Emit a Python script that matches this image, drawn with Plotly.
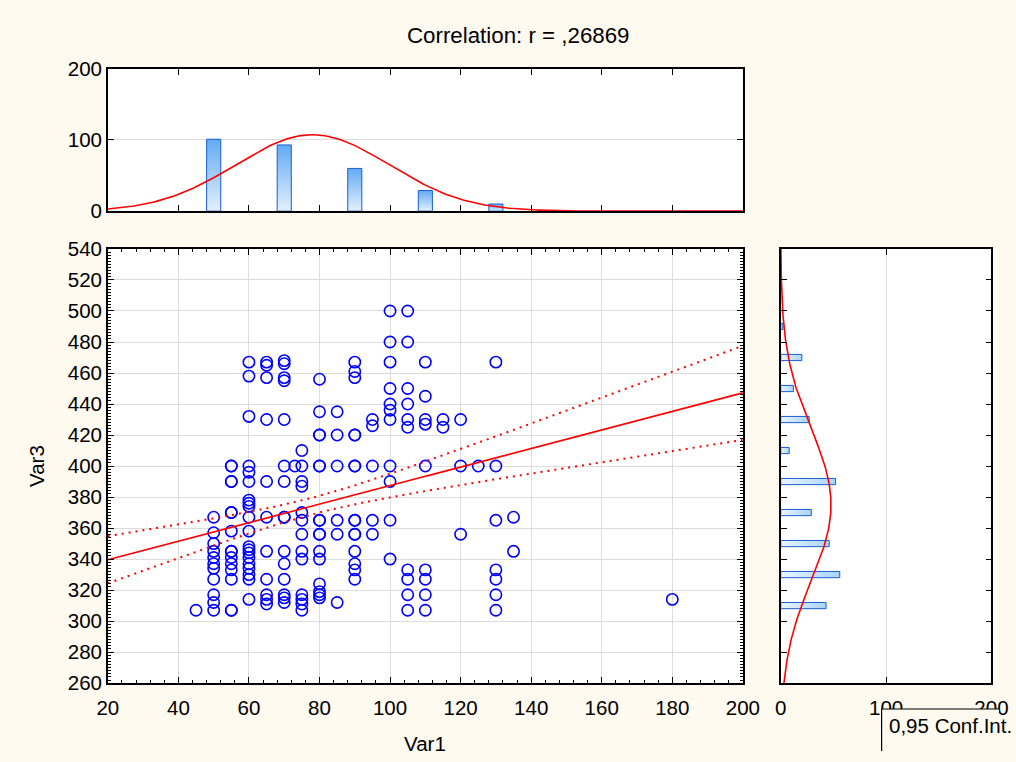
import numpy as np
import plotly.graph_objects as go

# ---------------- data ----------------
# scatter: Var1 (x) and Var3 (y), one entry per visible circle
var1 = ([45] + [50]*11 + [55]*15 + [60]*20 + [65]*11 + [70]*15 + [73] + [75]*13 +
        [80]*16 + [85]*6 + [90]*15 + [95]*5 + [100]*11 + [105]*10 + [110]*9 +
        [115]*2 + [120]*3 + [125] + [130]*7 + [135]*2 + [180])
var3 = ([307] +
        [367, 357, 350, 345, 341, 337, 334, 327, 317, 312, 307] +
        [400, 400, 390, 390, 370, 370, 358, 345, 345, 341, 337, 333, 327, 307, 307] +
        [467, 458, 432, 400, 396, 390, 378, 376, 374, 367, 358, 348, 346, 344, 341, 337, 334, 330, 327, 314] +
        [467, 465, 457, 430, 390, 367, 345, 327, 317, 314, 311] +
        [468, 466, 457, 455, 430, 400, 390, 367, 367, 345, 337, 327, 317, 315, 312] +
        [400] +
        [410, 400, 390, 387, 370, 365, 356, 345, 340, 317, 314, 311, 307] +
        [456, 435, 420, 420, 400, 400, 365, 365, 356, 356, 345, 340, 324, 319, 317, 315] +
        [435, 420, 400, 365, 356, 312] +
        [467, 461, 457, 420, 420, 400, 400, 365, 365, 356, 356, 345, 337, 333, 327] +
        [430, 426, 400, 365, 356] +
        [500, 480, 467, 450, 440, 436, 430, 400, 390, 365, 340] +
        [500, 480, 450, 440, 430, 425, 333, 327, 317, 307] +
        [467, 445, 430, 427, 400, 333, 327, 317, 307] +
        [430, 425] +
        [430, 400, 356] +
        [400] +
        [467, 400, 365, 333, 327, 317, 307] +
        [367, 345] +
        [314])

# histogram of Var1 (top)
hist1_centers = [50, 70, 90, 110, 130]
hist1_counts = [101, 93, 60, 29, 10]
# histogram of Var3 (right)
hist3_centers = [310, 330, 350, 370, 390, 410, 430, 450, 470, 490]
hist3_counts = [43, 56, 46, 29, 52, 8, 27, 12, 20, 2]

# fitted statistics
n_obs = 293
bin_width = 20
bar_width = 4
mean_var1, sd_var1 = 78.0, 21.8
mean_var3, sd_var3 = 375.0, 49.0
reg_intercept, reg_slope = 327.6, 0.598
resid_sd, t_crit = 46.4, 1.968
title_text = "Correlation: r = ,26869"

# ---------------- derived curves ----------------
xs = np.linspace(20, 200, 241)
ys = np.linspace(260, 540, 241)
norm1 = n_obs * bin_width / (sd_var1 * np.sqrt(2 * np.pi)) * np.exp(-0.5 * ((xs - mean_var1) / sd_var1) ** 2)
norm3 = n_obs * bin_width / (sd_var3 * np.sqrt(2 * np.pi)) * np.exp(-0.5 * ((ys - mean_var3) / sd_var3) ** 2)
fit = reg_intercept + reg_slope * xs
sxx = (n_obs - 1) * sd_var1 ** 2
half = t_crit * resid_sd * np.sqrt(1.0 / n_obs + (xs - mean_var1) ** 2 / sxx)

# layout is given in the target picture's pixels; the photographed page is
# shrunk a little and framed, so positions are pre-compensated.
W, H = 1016, 762
SHOT_SCALE, SHOT_OFF = 0.974, 10.0
def T(v): return (v - SHOT_OFF) / SHOT_SCALE
def px(v): return T(v) / W
def py(v): return 1 - T(v) / H
def fs(v): return v / SHOT_SCALE

FONT = "Arial, Liberation Sans, sans-serif"
BG = "#FFFAF0"
GRID = "#dcdcdc"
RED = "#FF0000"
BLUE = "#0000FF"
EDGE = "#1a5ed0"
FS = fs(20)

fig = go.Figure()

# top histogram: one gradient-filled polygon per bin
for c, h in zip(hist1_centers, hist1_counts):
    l, r = c - bar_width / 2, c + bar_width / 2
    fig.add_trace(go.Scatter(x=[l, l, r, r, l], y=[0, h, h, 0, 0], mode="lines", fill="toself",
                             xaxis="x2", yaxis="y2", line=dict(color=EDGE, width=1),
                             fillgradient=dict(type="vertical",
                                               colorscale=[[0, "#e4f1fd"], [1, "#62aaf3"]]),
                             hoverinfo="skip"))
fig.add_trace(go.Scatter(x=xs, y=norm1, mode="lines", xaxis="x2", yaxis="y2",
                         line=dict(color=RED, width=1.6)))
# right histogram
for c, n in zip(hist3_centers, hist3_counts):
    b, t = c - bar_width / 2, c + bar_width / 2
    fig.add_trace(go.Scatter(x=[0, n, n, 0, 0], y=[b, b, t, t, b], mode="lines", fill="toself",
                             xaxis="x3", yaxis="y3", line=dict(color=EDGE, width=1),
                             fillgradient=dict(type="horizontal",
                                               colorscale=[[0, "#eaf5ff"], [1, "#aad4f8"]]),
                             hoverinfo="skip"))
fig.add_trace(go.Scatter(x=norm3, y=ys, mode="lines", xaxis="x3", yaxis="y3",
                         line=dict(color=RED, width=1.6)))
# scatter
fig.add_trace(go.Scatter(x=var1, y=var3, mode="markers",
                         marker=dict(symbol="circle-open", size=fs(11), color=BLUE,
                                     line=dict(width=1.6, color=BLUE))))
fig.add_trace(go.Scatter(x=xs, y=fit, mode="lines", line=dict(color=RED, width=1.6)))
fig.add_trace(go.Scatter(x=xs, y=fit + half, mode="lines", line=dict(color=RED, width=2, dash="2px,5px")))
fig.add_trace(go.Scatter(x=xs, y=fit - half, mode="lines", line=dict(color=RED, width=2, dash="2px,5px")))

axis_common = dict(showline=True, linecolor="black", linewidth=1.5, mirror="ticks",
                   ticks="inside", tickcolor="black", tickwidth=1.2, zeroline=False,
                   tickfont=dict(family=FONT, size=FS, color="black"), fixedrange=True)

fig.update_layout(
    autosize=True, margin=dict(l=0, r=0, t=0, b=0, pad=0),
    paper_bgcolor=BG, plot_bgcolor="white", showlegend=False,
    font=dict(family=FONT, size=FS, color="black"),
    xaxis=dict(domain=[px(107), px(743)], range=[20, 200], anchor="y",
               tickmode="linear", tick0=20, dtick=20, ticklen=6, ticklabelstandoff=6,
               showgrid=True, gridcolor=GRID, gridwidth=1,
               minor=dict(ticks="inside", dtick=4, ticklen=3, tickcolor="black", showgrid=False),
               **axis_common),
    yaxis=dict(domain=[py(684), py(248)], range=[260, 540], anchor="x",
               tickmode="linear", tick0=260, dtick=20, ticklen=6,
               showgrid=True, gridcolor=GRID, gridwidth=1,
               minor=dict(ticks="inside", dtick=2, ticklen=3, tickcolor="black", showgrid=False),
               **axis_common),
    xaxis2=dict(domain=[px(107), px(743)], range=[20, 200], anchor="y2",
                tickmode="linear", tick0=20, dtick=20, ticklen=6, showticklabels=False,
                showgrid=False, **axis_common),
    yaxis2=dict(domain=[py(210), py(67)], range=[0, 200], anchor="x2",
                tickvals=[0, 100, 200], ticklen=6, showgrid=True, gridcolor=GRID,
                **axis_common),
    xaxis3=dict(domain=[px(781), px(992)], range=[0, 200], anchor="y3",
                tickvals=[0, 100, 200], ticklen=6, ticklabelstandoff=6,
                showgrid=True, gridcolor=GRID, **axis_common),
    yaxis3=dict(domain=[py(684), py(248)], range=[260, 540], anchor="x3",
                tickmode="linear", tick0=260, dtick=20, ticklen=6, showticklabels=False,
                showgrid=False, **axis_common),
)

ann_font = dict(family=FONT, size=FS, color="black")
fig.add_annotation(text=title_text, x=px(518), y=py(34), xref="paper", yref="paper",
                   showarrow=False, font=dict(family=FONT, size=22.3, color="black"),
                   xanchor="center", yanchor="middle")
fig.add_annotation(text="Var1", x=px(425), y=py(745), xref="paper", yref="paper",
                   showarrow=False, font=ann_font, xanchor="center", yanchor="middle")
fig.add_annotation(text="Var3", x=px(35), y=py(466), xref="paper", yref="paper",
                   showarrow=False, font=ann_font, textangle=-90, xanchor="center", yanchor="middle")
# confidence-interval legend box (runs off the page edge): filled box + left/top borders
fig.add_shape(type="rect", xref="paper", yref="paper", x0=px(882), x1=1.0, y0=py(710), y1=0.0,
              line=dict(width=0), fillcolor=BG, layer="above")
fig.add_shape(type="line", xref="paper", yref="paper", x0=px(882), x1=1.0, y0=py(710), y1=py(710),
              line=dict(color="black", width=1.2), layer="above")
fig.add_shape(type="line", xref="paper", yref="paper", x0=px(882), x1=px(882), y0=py(710), y1=0.0,
              line=dict(color="black", width=1.2), layer="above")
fig.add_annotation(text="0,95 Conf.Int.", x=px(887), y=py(727), xref="paper", yref="paper",
                   showarrow=False, font=ann_font, xanchor="left", yanchor="middle")

fig.write_html("out.html", config={"displayModeBar": False, "responsive": True},
               default_width="100vw",
               default_height="100vh; position:fixed; left:0; top:0; margin:0",
               post_script="document.body.style.background='%s';document.body.style.margin='0';" % BG)
